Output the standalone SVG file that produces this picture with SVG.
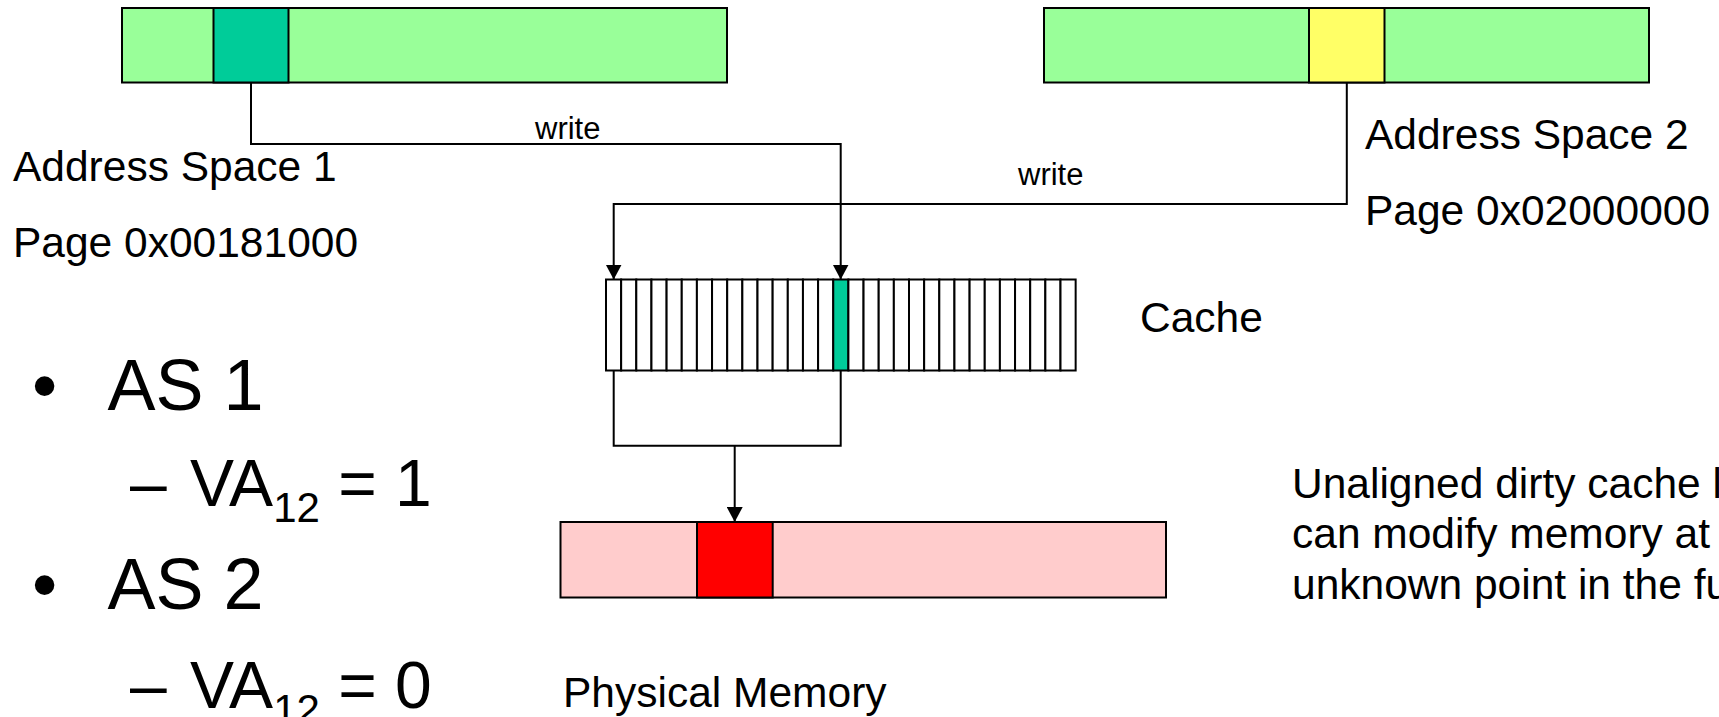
<svg xmlns="http://www.w3.org/2000/svg" width="1719" height="717" viewBox="0 0 1719 717">
  <style>
    .box{stroke:#000;stroke-width:2}
    .cell{fill:#fff;stroke:#000;stroke-width:2}
    .conn{fill:none;stroke:#000;stroke-width:2}
    .t{font-family:"Liberation Sans",Arial,Helvetica,sans-serif;fill:#000}
    .lbl{font-size:42.5px}
    .small{font-size:31px}
    .l1{font-size:72px}
    .l2{font-size:66px}
  </style>
  <defs>
    <marker id="arrow" markerUnits="userSpaceOnUse" markerWidth="16" markerHeight="16" refX="15" refY="8" orient="auto">
      <path d="M0,0 L15,8 L0,16 Z" fill="#000"/>
    </marker>
  </defs>

  <rect width="1719" height="717" fill="#fff"/>

  <!-- address space 1 with its page -->
  <g id="as1">
    <rect class="box" x="122" y="8" width="605" height="74.5" fill="#99FF99"/>
    <rect class="box" x="213.5" y="8" width="75" height="74.5" fill="#00CC99"/>
    <text class="t lbl" x="13" y="181">Address Space 1</text>
    <text class="t lbl" x="13" y="257">Page 0x00181000</text>
  </g>

  <!-- address space 2 with its page -->
  <g id="as2">
    <rect class="box" x="1044" y="8" width="605" height="74.5" fill="#99FF99"/>
    <rect class="box" x="1309" y="8" width="75.5" height="74.5" fill="#FFFF66"/>
    <text class="t lbl" x="1365" y="149">Address Space 2</text>
    <text class="t lbl" x="1365" y="225">Page 0x02000000</text>
  </g>

  <!-- cache lines: 31 slots, one dirty -->
  <g id="cache">
    <rect class="cell" x="606" y="279.5" width="15.15" height="91"/>
    <rect class="cell" x="621.15" y="279.5" width="15.15" height="91"/>
    <rect class="cell" x="636.3" y="279.5" width="15.15" height="91"/>
    <rect class="cell" x="651.45" y="279.5" width="15.15" height="91"/>
    <rect class="cell" x="666.6" y="279.5" width="15.15" height="91"/>
    <rect class="cell" x="681.75" y="279.5" width="15.15" height="91"/>
    <rect class="cell" x="696.9" y="279.5" width="15.15" height="91"/>
    <rect class="cell" x="712.05" y="279.5" width="15.15" height="91"/>
    <rect class="cell" x="727.2" y="279.5" width="15.15" height="91"/>
    <rect class="cell" x="742.35" y="279.5" width="15.15" height="91"/>
    <rect class="cell" x="757.5" y="279.5" width="15.15" height="91"/>
    <rect class="cell" x="772.65" y="279.5" width="15.15" height="91"/>
    <rect class="cell" x="787.8" y="279.5" width="15.15" height="91"/>
    <rect class="cell" x="802.95" y="279.5" width="15.15" height="91"/>
    <rect class="cell" x="818.1" y="279.5" width="15.15" height="91"/>
    <rect class="cell" x="833.25" y="279.5" width="15.15" height="91" style="fill:#00CC99"/>
    <rect class="cell" x="848.4" y="279.5" width="15.15" height="91"/>
    <rect class="cell" x="863.55" y="279.5" width="15.15" height="91"/>
    <rect class="cell" x="878.7" y="279.5" width="15.15" height="91"/>
    <rect class="cell" x="893.85" y="279.5" width="15.15" height="91"/>
    <rect class="cell" x="909" y="279.5" width="15.15" height="91"/>
    <rect class="cell" x="924.15" y="279.5" width="15.15" height="91"/>
    <rect class="cell" x="939.3" y="279.5" width="15.15" height="91"/>
    <rect class="cell" x="954.45" y="279.5" width="15.15" height="91"/>
    <rect class="cell" x="969.6" y="279.5" width="15.15" height="91"/>
    <rect class="cell" x="984.75" y="279.5" width="15.15" height="91"/>
    <rect class="cell" x="999.9" y="279.5" width="15.15" height="91"/>
    <rect class="cell" x="1015.05" y="279.5" width="15.15" height="91"/>
    <rect class="cell" x="1030.2" y="279.5" width="15.15" height="91"/>
    <rect class="cell" x="1045.35" y="279.5" width="15.15" height="91"/>
    <rect class="cell" x="1060.5" y="279.5" width="15.15" height="91"/>
    <text class="t lbl" x="1140" y="332">Cache</text>
  </g>

  <!-- physical memory with the shared frame -->
  <g id="memory">
    <rect class="box" x="560.5" y="522" width="605.5" height="75.5" fill="#FFCCCC"/>
    <rect class="box" x="697" y="522" width="75.7" height="75.5" fill="#FF0000"/>
    <text class="t lbl" x="563" y="707">Physical Memory</text>
  </g>

  <!-- write paths and write-back -->
  <g id="connectors">
    <path class="conn" d="M251,82.5 V144 H840.7 V279.5" marker-end="url(#arrow)"/>
    <text class="t small" x="535" y="139">write</text>
    <path class="conn" d="M1346.8,82.5 V204 H613.7 V279.5" marker-end="url(#arrow)"/>
    <text class="t small" x="1018" y="185">write</text>
    <path class="conn" d="M613.7,370.5 V445.7 H840.7 V370.5"/>
    <path class="conn" d="M734.7,445.7 V522" marker-end="url(#arrow)"/>
  </g>

  <!-- bullet list -->
  <g id="notes">
    <text class="t l1" x="32" y="410">•</text>
    <text class="t l1" x="107.5" y="410">AS 1</text>
    <text class="t l2" x="130" y="506">–</text>
    <text class="t l2" x="190" y="506">VA<tspan font-size="42" dy="16">12</tspan><tspan dy="-16"> = 1</tspan></text>
    <text class="t l1" x="32" y="609">•</text>
    <text class="t l1" x="107.5" y="609">AS 2</text>
    <text class="t l2" x="130" y="708">–</text>
    <text class="t l2" x="190" y="708">VA<tspan font-size="42" dy="16">12</tspan><tspan dy="-16"> = 0</tspan></text>
  </g>

  <!-- side remark -->
  <g id="remark">
    <text class="t lbl" x="1292" y="498">Unaligned dirty cache l</text>
    <text class="t lbl" x="1292" y="548">can modify memory at</text>
    <text class="t lbl" x="1292" y="599">unknown point in the fu</text>
  </g>
</svg>
